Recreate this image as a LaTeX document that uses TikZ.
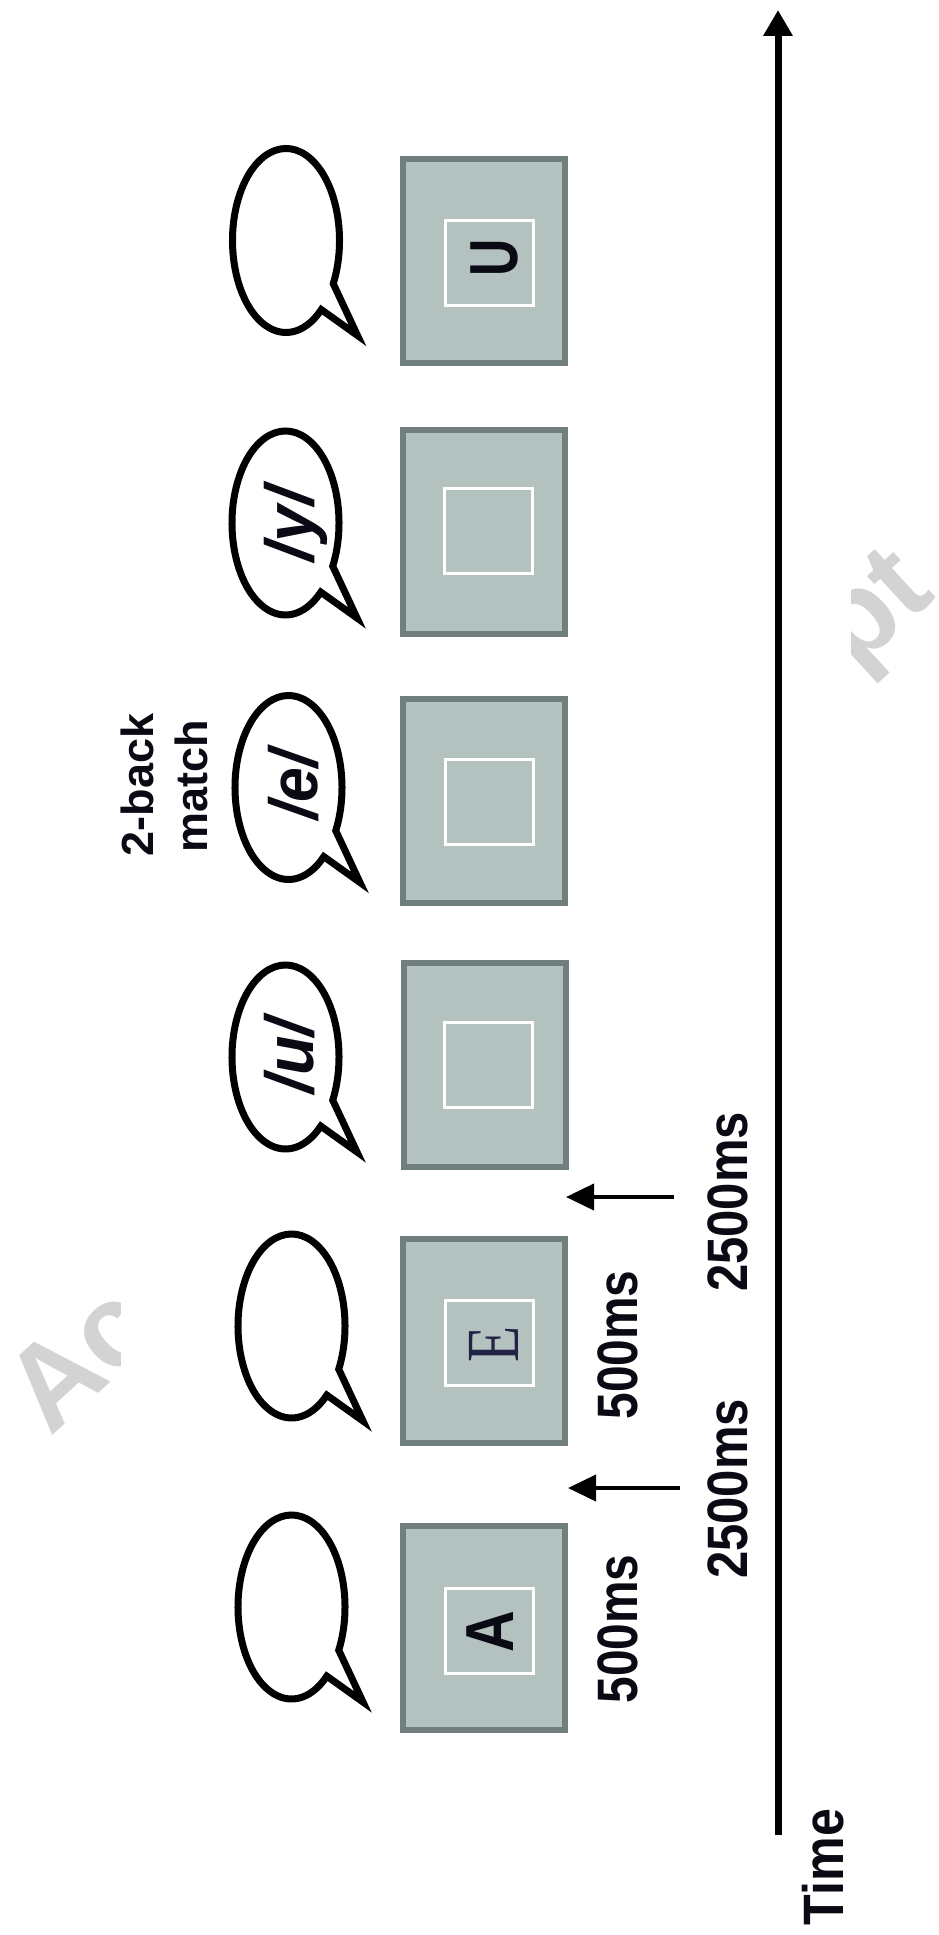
\documentclass[tikz,border=0pt]{standalone}
\usepackage{fontspec}
\setmainfont{Liberation Sans}
\newfontfamily\serifface{Liberation Serif}
\usetikzlibrary{arrows.meta}
\definecolor{boxfill}{RGB}{180,194,191}
\definecolor{boxedge}{RGB}{112,127,125}
\definecolor{ink}{RGB}{10,10,20}
\definecolor{navy}{RGB}{35,35,70}
\definecolor{wmark}{RGB}{211,211,211}
\tikzset{
  speech/.pic={\path[bubbleline] (-28:53.5 and 92) arc[start angle=-28,end angle=311.3,x radius=53.5,y radius=92] -- (71.5,-95) -- cycle;}
}
\begin{document}
\begin{tikzpicture}[x=1pt,y=1pt,
  stimbox/.style={draw=boxedge,line width=6pt,fill=boxfill,minimum width=162pt,minimum height=204pt,inner sep=0pt},
  window/.style={draw=white,line width=3pt,minimum width=88pt,minimum height=85pt,inner sep=0pt},
  bubbleline/.style={draw=black,line width=7pt,fill=white,line join=miter},
  rtext/.style={rotate=90,anchor=base,inner sep=0pt,text=ink},
  timelbl/.style={rtext,font=\fontsize{57}{60}\selectfont\bfseries},
  phon/.style={rtext,font=\fontsize{68}{70}\selectfont\bfseries\itshape},
  matchlbl/.style={rtext,font=\fontsize{45}{50}\selectfont\bfseries},
  letter/.style={rtext,font=\fontsize{68}{70}\selectfont\bfseries},
  delay/.style={line width=4pt,-{Triangle[length=28pt,width=26pt]}},
  axis/.style={line width=7pt,-{Triangle[length=26pt,width=28pt]}},
  wm/.style={rotate=42.5,anchor=base west,inner sep=0pt,text=wmark,font=\fontsize{118}{120}\selectfont\bfseries}
]
\fill[white] (0,0) rectangle (939,-1935);
\useasboundingbox (0,0) rectangle (939,-1935);

% watermark fragments
\begin{scope}
  \clip (0,0) rectangle (120,-1935);
  \node[wm] (wm1) at (50,-1438) {Ac};
\end{scope}
\begin{scope}
  \clip (851,0) rectangle (939,-1935);
  \node[wm] (wm2) at (855,-672) {pt};
\end{scope}

% stimulus boxes
\node[stimbox] (b1) at (484,-1628) {};
\node[stimbox] (b2) at (484,-1340.5) {};
\node[stimbox] (b3) at (485,-1065) {};
\node[stimbox] (b4) at (484,-801) {};
\node[stimbox] (b5) at (484,-532) {};
\node[stimbox] (b6) at (484,-261) {};
\node[window] (w1) at (489.5,-1631) {};
\node[window] (w2) at (489.5,-1343) {};
\node[window] (w3) at (488,-1064.5) {};
\node[window] (w4) at (489,-801.5) {};
\node[window] (w5) at (488.5,-530.5) {};
\node[window] (w6) at (489.5,-262.5) {};

% letters
\node[letter] (lA) at (513,-1632) {\scalebox{0.85}[1]{A}};
\node[rtext,font=\fontsize{75}{78}\selectfont\serifface,text=navy] (lE) at (518,-1344) {\scalebox{0.79}[1]{E}};
\node[letter] (lU) at (517,-258) {\scalebox{0.76}[1]{U}};

% speech bubbles
\pic at (291.5,-1607) {speech};
\pic at (291.5,-1326) {speech};
\pic at (285.5,-1057) {speech};
\pic at (288.5,-787.5) {speech};
\pic at (285.5,-523) {speech};
\pic at (286,-240.5) {speech};
\node[phon] (pu) at (313,-1056) {\scalebox{0.95}[1]{/u/}};
\node[phon] (pe) at (317,-785) {\scalebox{0.92}[1]{/e/}};
\node[phon] (py) at (313,-524) {\scalebox{0.98}[1]{/y/}};

% 2-back match label
\node[matchlbl] (m1) at (153,-785) {2-back};
\node[matchlbl] (m2) at (207,-786) {match};

% duration labels
\node[timelbl] (d1) at (637,-1629) {\scalebox{0.84}[1]{500ms}};
\node[timelbl] (d2) at (747,-1489) {\scalebox{0.86}[1]{2500ms}};
\node[timelbl] (d3) at (637,-1345) {\scalebox{0.84}[1]{500ms}};
\node[timelbl] (d4) at (747,-1202) {\scalebox{0.86}[1]{2500ms}};

% delay arrows
\coordinate (s1) at (680,-1488);
\coordinate (e1) at (568,-1488);
\coordinate (s2) at (674,-1197);
\coordinate (e2) at (566,-1197);
\draw[delay] (s1) -- (e1);
\draw[delay] (s2) -- (e2);

% time axis
\coordinate (ax0) at (778,-1835);
\coordinate (ax1) at (778,-10);
\draw[axis] (ax0) -- (ax1);
\node[timelbl] (tl) at (843,-1867) {\scalebox{0.88}[1]{Time}};
\end{tikzpicture}
\end{document}
